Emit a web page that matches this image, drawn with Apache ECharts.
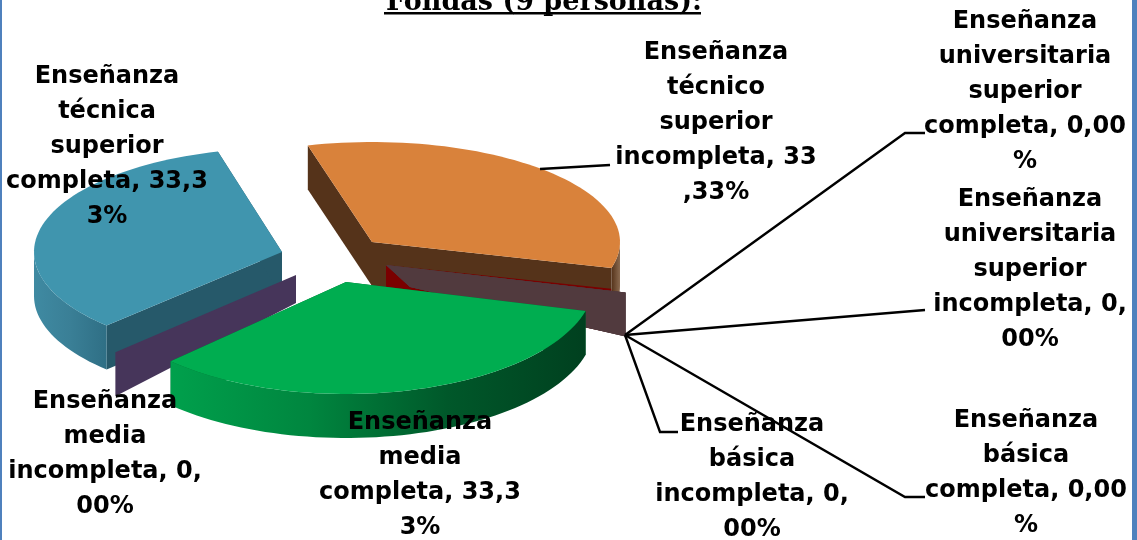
<!DOCTYPE html>
<html><head><meta charset="utf-8">
<style>html,body{margin:0;padding:0;background:#fff}#c{width:1137px;height:540px}</style>
<script src="https://cdn.jsdelivr.net/npm/echarts@6/dist/echarts.min.js"></script>
</head><body><div id="c"></div>
<script>
// ---- data, clockwise from the right-hand edge of the orange slice
const categories = [
  'Enseñanza básica incompleta',
  'Enseñanza básica completa',
  'Enseñanza universitaria superior incompleta',
  'Enseñanza universitaria superior completa',
  'Enseñanza media completa',
  'Enseñanza media incompleta',
  'Enseñanza técnica superior completa',
  'Enseñanza técnico superior incompleta'
];
const values = [0, 0, 0, 0, 33.33, 0, 33.33, 33.33];
const labelLines = [
  ['Enseñanza','básica','incompleta, 0,','00%'],
  ['Enseñanza','básica','completa, 0,00','%'],
  ['Enseñanza','universitaria','superior','incompleta, 0,','00%'],
  ['Enseñanza','universitaria','superior','completa, 0,00','%'],
  ['Enseñanza','media','completa, 33,3','3%'],
  ['Enseñanza','media','incompleta, 0,','00%'],
  ['Enseñanza','técnica','superior','completa, 33,3','3%'],
  ['Enseñanza','técnico','superior','incompleta, 33',',33%']
];
const titleText = 'Fondas (9 personas):';

// ---- presentation only
const RX = 248, DEPTH = 44, START = -15, HUB = [625, 335];
const looks = [
  {apex:[386,265], ry:106, z:4, wall:'#7a0000', wallDepth:22, rimScale:.94, rimLift:2, tx:752, ty:425, leader:[[678,432],[660,432],HUB]},
  {apex:[386,265], ry:106, z:5, wall:'#513a3e', wallDepth:22, innerShift:24, tx:1026, ty:421, leader:[[925,497],[905,497],HUB]},
  {apex:[386,265], ry:106, z:5, wall:'#513a3e', wallDepth:22, innerShift:24, tx:1030, ty:200, leader:[[925,310],HUB]},
  {apex:[386,265], ry:106, z:6, wall:'#513a3e', wallDepth:22, innerShift:24, tx:1025, ty:22, leader:[[925,133],[905,133],HUB]},
  {apex:[346,282], ry:112, z:20, top:'#00ad50', face:'#00642f', rim:['#00a04c','#00863f','#00582a','#00401f'], tx:420, ty:423},
  {apex:[296,275], ry:106, z:10, wall:'#46355a', wallDepth:28, rimScale:1.03, tx:105, ty:402},
  {apex:[282,252], ry:104, z:8, top:'#4095ae', face:'#26596a', rim:['#3f8aa2','#3a7f96','#2f6f85'], tx:107, ty:77},
  {apex:[372,242], ry:100, z:2, top:'#d9823b', face:'#55331a', rim:['#55331a','#8a6a50'], tx:716, ty:53, leader:[[610,165],[540,169]]}
];
const LINE_H = 35;
const FONT = 'bold 24px "DejaVu Sans"';

const rad = d => d * Math.PI / 180;
const pt = (L, t, dy = 0, s = 1) => [L.apex[0] + s * RX * Math.cos(rad(t)), L.apex[1] - s * L.ry * Math.sin(rad(t)) + dy];
const total = values.reduce((a, b) => a + b, 0);
const angles = [];
values.reduce((acc, v, i) => { const next = acc - v / total * 360; angles[i] = [acc, next]; return next; }, START);

function arc(L, from, to, dy) {           // from > to, clockwise
  const out = [], n = Math.max(2, Math.ceil((from - to) / 2));
  for (let i = 0; i <= n; i++) out.push(pt(L, from + (to - from) * i / n, dy));
  return out;
}
const poly = (points, fill, z2) => ({type:'polygon', shape:{points}, style:{fill}, z2, silent:true});

function renderItem(params, api) {
  const i = params.dataIndex, L = looks[i], v = api.value(0), c = L.apex;
  const [a0, a1] = angles[i];
  const kids = [];
  if (v === 0) {
    const rs = L.rimScale || 1, lift = L.rimLift || 0;
    const rimTop = pt(L, a0, -lift, rs), rimBot = pt(L, a0, DEPTH - lift, rs);
    const shift = L.innerShift || 0;
    kids.push(poly([c, rimTop, rimBot, [c[0] + shift, c[1] + L.wallDepth]], L.wall, L.z));
  } else {
    // two cut faces
    [a0, a1].forEach(a => {
      const p = pt(L, a);
      kids.push(poly([c, p, [p[0], p[1] + DEPTH], [c[0], c[1] + DEPTH]], L.face, L.z));
    });
    // outer wall: only the front half of the ellipse faces the viewer (sin t < 0)
    const nrm = a => ((a % 360) + 360) % 360;
    let hi = nrm(a0), lo = hi - (a0 - a1);       // clockwise run
    const ranges = [];
    for (let k = -1; k <= 1; k++) {
      const fr = Math.min(hi + 360 * k, 360), to = Math.max(lo + 360 * k, 180);
      if (fr > to) ranges.push([fr, to]);
    }
    ranges.forEach(([fr, to]) => {
      const upper = arc(L, fr, to, 0), lower = arc(L, fr, to, DEPTH).reverse();
      const stops = L.rim.map((col, k) => ({offset: k / (L.rim.length - 1), color: col}));
      const grad = new echarts.graphic.LinearGradient(0, 0, 1, 0, stops);
      kids.push(poly(upper.concat(lower), grad, L.z + 1));
    });
    kids.push(poly([c].concat(arc(L, a0, a1, 0)), L.top, L.z + 2));
  }
  if (L.leader) {
    kids.push({type:'polyline', shape:{points:L.leader}, z2:30, silent:true,
      style:{stroke:'#000', lineWidth:2.4, fill:null}});
  }
  labelLines[i].forEach((line, k) => {
    kids.push({type:'text', z2:40, silent:true, style:{
      x:L.tx, y:L.ty + k * LINE_H, text:line, font:FONT, fill:'#000',
      textAlign:'center', textVerticalAlign:'middle'}});
  });
  return {type:'group', children:kids};
}

const chart = echarts.init(document.getElementById('c'), null, {renderer:'canvas'});
chart.setOption({
  animation:false,
  backgroundColor:'#fff',
  title:{text:titleText, left:539, textAlign:'center', top:-16,
    textStyle:{fontFamily:'"DejaVu Serif"', fontWeight:'bold', fontSize:27, color:'#000'}},
  series:[{type:'custom', coordinateSystem:'none', renderItem,
    data:values.map((v, i) => ({name:categories[i], value:[v]}))}],
  graphic:[
    {type:'rect', shape:{x:384, y:12, width:317, height:2.5}, style:{fill:'#000'}},
    {type:'rect', shape:{x:0, y:0, width:2, height:540}, style:{fill:'#4f81bd'}},
    {type:'rect', shape:{x:1132, y:0, width:5, height:540}, style:{fill:'#4f81bd'}}
  ]
});
</script></body></html>
